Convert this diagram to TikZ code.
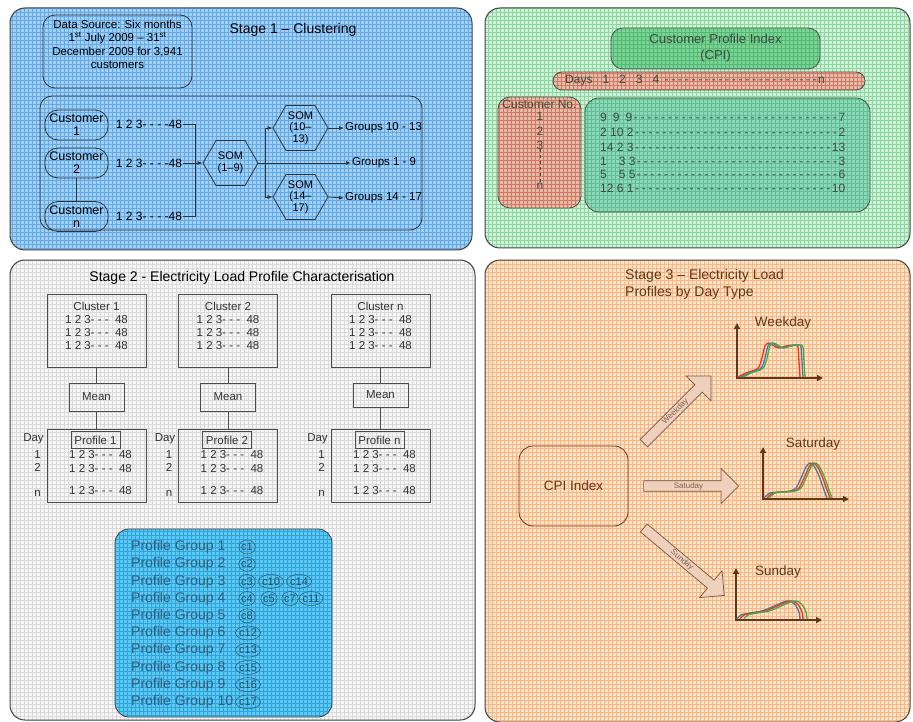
\documentclass[tikz,border=0pt]{standalone}
\usepackage{fontspec}
\setmainfont{Liberation Sans}
\usetikzlibrary{shapes.symbols,shapes.arrows,shapes.geometric,arrows.meta}

\definecolor{blueBg}{RGB}{160,208,243}
\definecolor{blueLn}{RGB}{100,168,230}
\definecolor{greenBg}{RGB}{208,242,215}
\definecolor{greenLn}{RGB}{140,214,160}
\definecolor{cpiBg}{RGB}{125,210,150}
\definecolor{cpiLn}{RGB}{80,185,115}
\definecolor{redBg}{RGB}{215,195,170}
\definecolor{redLn}{RGB}{228,110,95}
\definecolor{tealBg}{RGB}{140,215,180}
\definecolor{tealLn}{RGB}{95,190,150}
\definecolor{greyBg}{RGB}{246,246,246}
\definecolor{greyLn}{RGB}{218,218,218}
\definecolor{cyanBg}{RGB}{95,200,240}
\definecolor{cyanLn}{RGB}{45,165,220}
\definecolor{orangeBg}{RGB}{253,228,200}
\definecolor{orangeLn}{RGB}{247,182,132}
\definecolor{brownTxt}{RGB}{95,55,25}
\definecolor{arrowBg}{RGB}{238,208,188}
\definecolor{pgTxt}{RGB}{50,95,125}
\definecolor{cpiTxt}{RGB}{60,75,65}
\definecolor{curveRed}{RGB}{235,55,30}
\definecolor{curveBlue}{RGB}{70,120,175}
\definecolor{curveGreen}{RGB}{60,175,70}

\newcommand{\fsz}[2]{\fontsize{#1}{#2}\selectfont}
\newcommand{\dashrow}[1]{\hbox to #1{\xleaders\hbox to 6.7pt{\hss-\hss}\hfill}}
\newcommand{\cpirow}[2]{\hbox to 245pt{#1\xleaders\hbox to 6.7pt{\hss-\hss}\hfill#2}}

\begin{document}
\begin{tikzpicture}[x=1pt,y=-1pt,>={Latex[length=5pt,width=4pt]},font=\fsz{11.5}{13.5}]
    \tikzset{
        gridfill/.style 2 args={
            fill=#1,
            path picture={\draw[#2,line width=0.7pt]
                (path picture bounding box.south west) grid[step=4pt]
                (path picture bounding box.north east);}
        },
        panel/.style={draw=black!75,line width=1pt,rounded corners=15pt},
        title/.style={font=\fsz{14}{17}},
        softbox/.style={draw=black!80,line width=0.8pt,rounded corners=12pt},
        custbox/.style={
            softbox,rounded corners=13pt,minimum width=63,minimum height=30,
            inner sep=0pt,align=center,font=\fsz{12.5}{13}
        },
        seq/.style={inner sep=1pt,font=\fsz{12}{14}},
        som/.style={
            draw=black!80,line width=0.8pt,signal,signal to=east and west,
            signal pointer angle=120,minimum width=55,minimum height=45,
            inner sep=0pt,align=center,font=\fsz{11}{11.5}
        },
        grouplabel/.style={anchor=west,inner sep=1pt,font=\fsz{11.5}{13}},
        link/.style={draw=black!80,line width=0.8pt},
        redbox/.style={draw=black!70,line width=0.8pt,gridfill={redBg}{redLn}},
        cpitext/.style={inner sep=0pt,text=cpiTxt,font=\fsz{12}{14}},
        plainbox/.style={
            draw=black!70,line width=0.8pt,minimum width=99,minimum height=73,
            inner sep=0pt
        },
        rowtext/.style={inner sep=0pt,text=black!80,font=\fsz{11.5}{13}},
        pgtext/.style={anchor=west,inner sep=0pt,text=pgTxt,font=\fsz{14}{17}},
        cellmark/.style={
            draw=pgTxt!70!black,ellipse,inner sep=0pt,minimum width=16,
            minimum height=14,text=pgTxt!80!black,font=\fsz{11}{12}
        },
        blockarrow/.style={
            single arrow,draw=brownTxt!85,fill=arrowBg,line width=0.7pt,
            single arrow head extend=12pt,minimum width=35,inner sep=1pt,
            text=brownTxt!80,font=\fsz{8}{9}
        },
        chartaxis/.style={
            draw=brownTxt,line width=1.6pt,
            {Triangle[length=6pt,width=6pt]}-{Triangle[length=6pt,width=6pt]}
        },
        curve/.style={line width=1.3pt,line join=round}
    }
    \useasboundingbox (0,0) rectangle (913,722);

    % Stage 1
    \draw[panel,gridfill={blueBg}{blueLn}] (10,8) rectangle (472,250);
    \node[title] (stage1) at (293,30) {Stage 1 – Clustering};
    \node[softbox,minimum width=149,minimum height=73] (source) at (117.5,51.5) {};
    \node[anchor=north,align=center,inner sep=0pt] (sourcetext) at ([yshift=-5pt]source.north)
        {Data Source: Six months\\1\textsuperscript{st} July 2009 – 31\textsuperscript{st}\\
         December 2009 for 3,941\\customers};
    \draw[softbox] (40,96) rectangle (422,230);

    \node[custbox] (cust1) at (76.5,125) {Customer\\1};
    \node[custbox] (cust2) at (76.5,163) {Customer\\2};
    \node[custbox] (custn) at (76.5,216.5) {Customer\\n};
    \draw[link] (cust2) -- (custn);

    \node[seq] (seq1) at (149,124) {1 2 3- - - -48};
    \node[seq] (seq2) at (149,163) {1 2 3- - - -48};
    \node[seq] (seqn) at (149,216) {1 2 3- - - -48};

    \node[som] (som19) at (230.5,163) {SOM\\(1–9)};
    \node[som] (som1013) at (300.5,128) {SOM\\(10–\\13)};
    \node[som] (som1417) at (300.5,197) {SOM\\(14–\\17)};

    \coordinate (merge) at (195,163);
    \coordinate (split) at (265,163);
    \draw[link] (seq1.east) -| (merge);
    \draw[link] (seqn.east) -| (merge);
    \draw[link,->] (seq2.east) -- (som19.west);
    \draw[link,->] (split) |- (som1013.west);
    \draw[link,->] (split) |- (som1417.west);

    \node[grouplabel] (groups19) at (351,163) {Groups 1 - 9};
    \node[grouplabel] (groups1013) at (344,128) {Groups 10 - 13};
    \node[grouplabel] (groups1417) at (344,198) {Groups 14 - 17};
    \draw[link,->] (som19.east) -- (groups19.west);
    \draw[link,->] (som1013.east) -- (groups1013.west);
    \draw[link,->] (som1417.east) -- (groups1417.west);

    % Customer Profile Index
    \draw[panel,gridfill={greenBg}{greenLn}] (485,8) rectangle (910,248);
    \node[draw=black!70,line width=0.8pt,rounded corners=12pt,gridfill={cpiBg}{cpiLn},
          minimum width=209,minimum height=41,align=center,text=cpiTxt,
          font=\fsz{13}{16}] (cpi) at (715.5,48.5) {Customer Profile Index\\(CPI)};
    \node[redbox,rounded corners=9pt,minimum width=312,minimum height=18] (days) at (709,81) {};
    \node[cpitext,anchor=west] (daysrow) at (565,81)
        {Days\hspace{10pt}1\hspace{10pt}2\hspace{10pt}3\hspace{10pt}4\hspace{4pt}\dashrow{155pt}n};

    \node[redbox,rounded corners=12pt,minimum width=83,minimum height=111] (custno) at (539.5,152.5) {};
    \node[cpitext] (custnolabel) at (539.5,104) {Customer No.};
    \node[cpitext] (no1) at (540,116) {1};
    \node[cpitext] (no2) at (540,131) {2};
    \node[cpitext] (no3) at (540,145) {3};
    \node[cpitext] (non) at (540,186) {n};
    \draw[draw=cpiTxt,line width=0.8pt,dashed] (no3.south) -- (non.north);

    \node[draw=black!70,line width=0.8pt,rounded corners=14pt,gridfill={tealBg}{tealLn},
          minimum width=285,minimum height=114] (cpidata) at (727.5,155) {};
    \foreach \lft/\rgt/\yy [count=\i] in {9\enspace 9\enspace 9/7/117,2 10 2/2/132,
        14 2 3/13/147,1\hspace{12pt}3 3/3/161,5\hspace{12pt}5 5/6/174,12 6 1/10/188}
        \node[cpitext,anchor=west] (cpirow\i) at (600,\yy) {\cpirow{\lft}{\rgt}};

    % Stage 2
    \draw[panel,gridfill={greyBg}{greyLn}] (10,260) rectangle (475,720);
    \node[title] (stage2) at (242,278) {Stage 2 - Electricity Load Profile Characterisation};

    \foreach \c/\x/\my/\mh in {1/96.5/397/28,2/228/397/28,n/380.5/395/24}{
        \node[plainbox] (cluster\c) at (\x,330.5) {};
        \node[rowtext,anchor=north,align=center] (clusterrows\c) at ([yshift=-8pt]cluster\c.north)
            {Cluster \c\\1 2 3- - -~~48\\1 2 3- - -~~48\\1 2 3- - -~~48};
        \node[plainbox,minimum width=55,minimum height=\mh,text=black!80] (mean\c) at (\x,\my) {Mean};
        \node[plainbox] (profile\c) at (\x,465.5) {};
        \draw[draw=black!70,line width=0.8pt] (cluster\c) -- (mean\c) -- (profile\c);
        \node[plainbox,minimum width=49,minimum height=17,inner sep=1pt,text=black!80]
            (ptag\c) at ([xshift=-1pt,yshift=-11.5pt]profile\c.north) {Profile \c};
        \node[rowtext] (prowa\c) at (\x+4,455) {1 2 3- - -~~48};
        \node[rowtext] (prowb\c) at (\x+4,469) {1 2 3- - -~~48};
        \node[rowtext] (prowc\c) at (\x+4,491) {1 2 3- - -~~48};
        \node[rowtext] (day\c) at (\x-63,439) {Day};
        \node[rowtext] (daya\c) at (\x-59,455) {1};
        \node[rowtext] (dayb\c) at (\x-59,467) {2};
        \node[rowtext] (dayn\c) at (\x-59,493) {n};
    }

    \node[draw=black!75,line width=0.8pt,rounded corners=14pt,gridfill={cyanBg}{cyanLn},
          minimum width=217,minimum height=188] (pgroups) at (223.5,623) {};
    \foreach \i in {1,...,10}
        \node[pgtext] (pg\i) at (131,{547+17.2*(\i-1)}) {Profile Group \i};
    \foreach \name/\x/\y in {c1/247/547,c2/247/564.2,c3/247/581.4,c10/271/581.4,
        c14/299/581.4,c4/247/598.6,c5/269/598.6,c7/290/598.6,c11/311/598.6,
        c8/247/615.8,c12/248/633,c13/248/650.2,c15/248/667.4,c16/248/684.6,c17/248/701.8}
        \node[cellmark] (\name) at (\x,\y) {\name};

    % Stage 3
    \draw[panel,gridfill={orangeBg}{orangeLn}] (485,260) rectangle (910,722);
    \node[title,anchor=north west,align=left,inner sep=0pt,text=brownTxt] (stage3) at (625,269)
        {Stage 3 – Electricity Load\\Profiles by Day Type};
    \node[draw=brownTxt,line width=0.8pt,rounded corners=14pt,minimum width=109,
          minimum height=80,text=brownTxt,font=\fsz{13.5}{16}] (cpiindex) at (573.5,486) {CPI Index};

    \node[blockarrow,minimum height=95,rotate=45] (toweekday) at (675.5,411.5) {Weekday};
    \node[blockarrow,minimum height=95] (tosaturday) at (688.5,486) {Satuday};
    \node[blockarrow,minimum height=105,rotate=-40] (tosunday) at (682,560) {Sunday};

    \node[text=brownTxt,font=\fsz{13.5}{16}] (weekday) at (783,323) {Weekday};
    \draw[chartaxis] (737,323) -- (737,378) -- (823,378);
    \foreach \col/\dx in {curveRed/0,curveBlue/3,curveGreen/5}
        \draw[curve,draw=\col,xshift=\dx pt] plot[smooth,tension=0.5] coordinates {
            (738,377) (746,373) (755,370) (759,367) (762,358) (765,346) (769,343)
            (774,346) (779,348) (786,346) (795,345) (798,347) (799,362) (800,377)};

    \node[text=brownTxt,font=\fsz{13.5}{16}] (saturday) at (813,444) {Saturday};
    \draw[chartaxis] (763,447) -- (763,499) -- (849,499);
    \foreach \col/\dx in {curveBlue/0,curveRed/3,curveGreen/5}
        \draw[curve,draw=\col,xshift=\dx pt] plot[smooth,tension=0.5] coordinates {
            (764,498) (770,493) (780,492) (790,491) (796,488) (801,478) (806,467)
            (810,463) (814,466) (819,476) (824,490) (827,498)};

    \node[text=brownTxt,font=\fsz{13.5}{16}] (sunday) at (778,572) {Sunday};
    \draw[chartaxis] (736,568) -- (736,620) -- (822,620);
    \foreach \col/\dx in {curveBlue/0,curveRed/3,curveGreen/7}
        \draw[curve,draw=\col,xshift=\dx pt] plot[smooth,tension=0.5] coordinates {
            (737,619) (741,615) (750,613) (762,611) (772,607) (781,603) (787,601)
            (792,602) (796,606) (799,612) (800,619)};
\end{tikzpicture}
\end{document}
